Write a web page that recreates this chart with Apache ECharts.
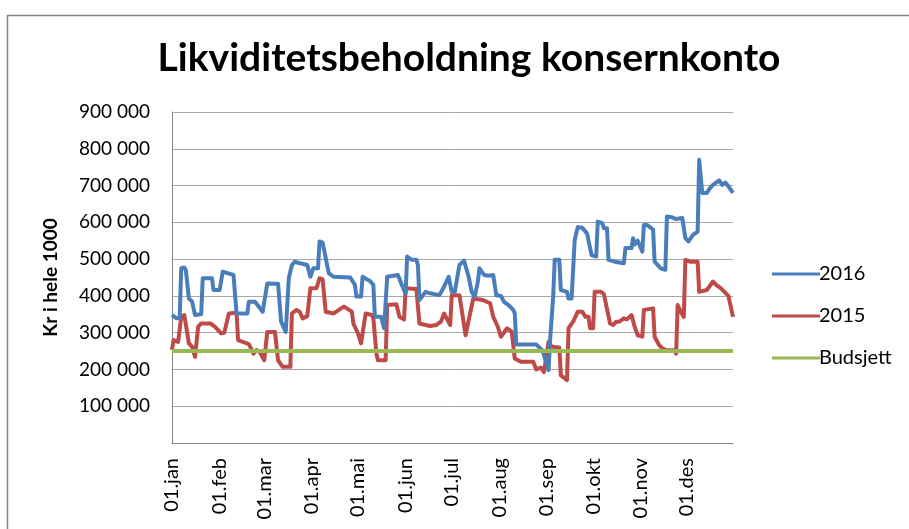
<!DOCTYPE html>
<html><head><meta charset="utf-8">
<script src="https://cdn.jsdelivr.net/npm/echarts@6/dist/echarts.min.js"></script>
<style>html,body{margin:0;padding:0;background:#fff}#c{width:909px;height:529px}</style>
</head><body><div id="c"></div>
<script>
// Day-of-year (0 = 01.jan) for month starts and their labels
const monthStarts = [0,31,60,91,121,152,182,213,244,274,305,335];
const monthLabels = ['01.jan','01.feb','01.mar','01.apr','01.mai','01.jun','01.jul','01.aug','01.sep','01.okt','01.nov','01.des'];
const yTicks = [0,100000,200000,300000,400000,500000,600000,700000,800000,900000];

// 2016 series: day-of-year and balance (kr i hele 1000)
const days2016 = [0,3,5,6,8,9,11,13,15,19,20,26,27,31,33,36,40,42,49,50,54,59,62,69,71,74,76,78,80,82,88,90,92,95,96,98,102,105,116,119,120,123,124,129,131,132,136,138,140,147,150,152,153,156,159,160,161,165,168,174,177,180,182,184,187,190,193,195,197,199,200,203,206,209,211,214,216,219,222,223,224,230,237,241,243,245,246,248,249,252,253,257,258,260,262,264,267,270,273,276,277,280,281,283,284,288,294,295,299,300,301,303,305,306,307,309,313,314,318,321,322,325,328,332,333,334,336,339,342,343,345,348,350,352,356,358,360,362,365];
const vals2016 = [348,339,340,475,477,470,393,385,348,350,448,448,416,416,466,462,457,352,352,384,384,357,434,433,330,302,448,484,493,490,484,452,475,475,548,545,462,452,450,430,398,398,452,440,430,343,343,312,452,457,425,407,507,498,498,484,389,411,407,402,425,452,411,411,484,496,452,411,398,439,475,457,455,457,402,400,384,375,362,353,268,268,268,252,225,198,280,398,498,498,416,411,393,393,552,587,585,570,511,507,602,598,584,584,498,493,489,530,530,557,540,550,530,520,593,593,580,493,475,471,616,614,609,612,610,557,548,566,575,770,680,680,693,702,714,702,708,698,680];

// 2015 series
const days2015 = [0,1,4,6,8,11,13,15,17,19,25,28,32,34,37,42,43,50,53,55,57,60,62,67,69,72,77,78,81,83,85,88,90,94,96,98,100,105,110,112,117,118,121,123,124,126,130,131,133,134,139,140,146,148,151,152,159,161,165,168,172,175,177,181,182,187,190,191,196,202,207,209,212,214,218,221,223,227,235,237,240,242,245,247,252,253,257,258,261,264,267,269,271,272,274,275,279,281,285,287,289,291,294,296,299,301,303,306,307,313,314,317,319,322,327,328,329,331,333,334,337,342,343,348,352,354,357,362,365];
const vals2015 = [253,280,275,343,348,271,262,234,316,325,325,316,298,300,352,354,280,269,243,253,248,225,302,302,225,207,207,352,362,357,339,345,421,421,448,445,357,352,366,371,357,325,298,271,275,352,348,340,243,225,225,375,377,343,336,421,419,325,321,318,321,330,352,321,402,402,321,293,393,389,380,343,316,289,312,303,230,221,221,200,205,193,275,262,260,184,171,312,330,357,357,343,343,312,312,411,411,405,325,321,330,330,339,336,348,316,293,289,362,366,289,266,257,252,252,243,375,357,343,498,493,493,411,416,439,430,421,400,343];

// Budget
const budgetDays = [0,365];
const budgetVals = [250,250];

const toPairs = (d, v) => d.map((x, i) => [x, v[i] * 1000]);

const FONT = 'Lato, "Open Sans", sans-serif';
const chart = echarts.init(document.getElementById('c'), null, {renderer: 'canvas'});
chart.setOption({
  animation: false,
  backgroundColor: '#fff',
  graphic: [{
    type: 'rect', left: 5, top: 13, shape: {width: 920, height: 530},
    style: {fill: 'none', stroke: '#868686', lineWidth: 1.5}, silent: true
  }],
  title: {
    text: 'Likviditetsbeholdning konsernkonto',
    left: 464, top: 34, textAlign: 'center',
    textStyle: {fontFamily: FONT, fontWeight: 'bold', fontSize: 39, color: '#000'}
  },
  legend: {
    orient: 'vertical', left: 767, top: 259, itemGap: 22,
    itemWidth: 48, itemHeight: 20,
    icon: 'path://M0,8.5 L48,8.5 L48,11.5 L0,11.5 Z',
    textStyle: {fontFamily: FONT, fontSize: 20, color: '#000', padding: [0,0,0,-6]},
    data: ['2016', '2015', 'Budsjett']
  },
  grid: {left: 172, right: 176, top: 112, bottom: 86, containLabel: false},
  xAxis: {
    type: 'value', min: 0, max: 365,
    axisLine: {show: true, lineStyle: {color: '#868686', width: 1}},
    axisTick: {show: false},
    splitLine: {show: false},
    axisLabel: {
      customValues: monthStarts,
      rotate: 90, margin: 15,
      fontFamily: FONT, fontSize: 20, color: '#000',
      formatter: v => monthLabels[monthStarts.indexOf(v)] || ''
    }
  },
  yAxis: {
    type: 'value', min: 0, max: 900000, interval: 100000,
    name: 'Kr i hele 1000', nameLocation: 'middle', nameGap: 112, nameRotate: 90,
    nameTextStyle: {fontFamily: FONT, fontWeight: 'bold', fontSize: 19, color: '#000'},
    axisLine: {show: true, lineStyle: {color: '#868686', width: 1}},
    axisTick: {show: false},
    splitLine: {show: true, lineStyle: {color: '#a6a6a6', width: 1}},
    axisLabel: {
      fontFamily: FONT, fontSize: 19, color: '#000', margin: 22,
      customValues: yTicks,
      formatter: v => v === 0 ? '' : (v / 1000) + ' 000'
    }
  },
  series: [
    {name: '2016', type: 'line', data: toPairs(days2016, vals2016), showSymbol: false,
     lineStyle: {color: '#4a7ebb', width: 4, join: 'round'}, itemStyle: {color: '#4a7ebb'}, z: 3},
    {name: '2015', type: 'line', data: toPairs(days2015, vals2015), showSymbol: false,
     lineStyle: {color: '#be4b48', width: 4, join: 'round'}, itemStyle: {color: '#be4b48'}, z: 2},
    {name: 'Budsjett', type: 'line', data: toPairs(budgetDays, budgetVals), showSymbol: false,
     lineStyle: {color: '#98b954', width: 4}, itemStyle: {color: '#98b954'}, z: 4}
  ]
});
</script></body></html>
